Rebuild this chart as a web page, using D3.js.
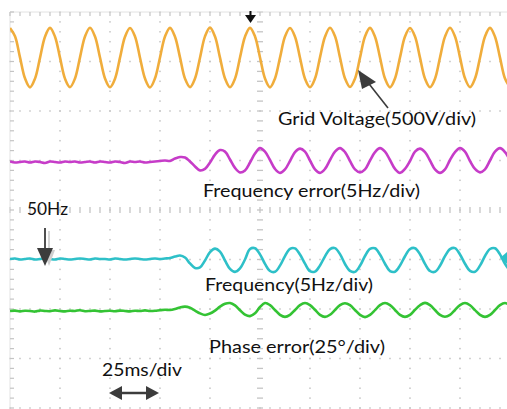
<!DOCTYPE html>
<html><head><meta charset="utf-8">
<script src="https://cdn.jsdelivr.net/npm/d3@7"></script>
<style>html,body{margin:0;padding:0;background:#fff;overflow:hidden}</style>
</head><body><svg id="c" width="507" height="409"></svg>
<script>
// ---- data (sampled every 2.5 ms, 0..250 ms) ----
const sampleStepMs = 2.5;
const timeDivs = [0,25,50,75,100,125,150,175,200,225,250];   // 25 ms/div
const ampDivs  = [-4,-3,-2,-1,0,1,2,3,4];

const gridVoltage = [
  298,214,2,-210,-301,-213,-3,211,
  300,211,-1,-213,-299,-211,2,213,
  301,212,1,-211,-300,-214,-1,210,
  299,213,-2,-212,-302,-210,1,212,
  300,210,2,-213,-299,-212,-2,214,
  302,212,-1,-211,-300,-213,0,211,
  300,213,1,-212,-301,-211,-1,212,
  299,211,-2,-214,-300,-212,2,210,
  301,214,0,-211,-298,-213,-1,213,
  300,210,1,-212,-301,-211,2,212,
  298,212,-1,-213,-300,-214,0,211,
  301,213,2,-210,-299,-212,-2,213,
  300,211,-1,-212,-300
];
const freqError = [
  -0.1,-0.2,-0.15,-0.1,-0.2,-0.1,-0.15,-0.25,-0.1,-0.15,-0.2,-0.1,-0.15,-0.1,-0.2,-0.15,
  -0.1,-0.2,-0.1,-0.15,-0.2,-0.1,-0.15,-0.25,-0.1,-0.15,-0.1,-0.2,-0.15,-0.1,-0.05,0.0,-0.05,
  0.2,0.35,0.3,-0.1,-0.6,-1.0,-0.85,-0.2,0.6,1.05,0.9,0.1,-0.75,-1.2,-1.0,-0.2,0.7,
  1.25,0.9,0.05,-0.85,-1.25,-0.9,-0.05,0.85,
  1.2,0.9,0.0,-0.9,-1.25,-0.85,0.05,0.9,
  1.25,0.85,-0.05,-0.9,-1.2,-0.9,0.0,0.85,
  1.25,0.9,0.05,-0.85,-1.25,-0.85,-0.05,0.9,
  1.2,0.85,0.0,-0.9,-1.25,-0.9,0.05,0.85,
  1.25,0.9,-0.05,-0.85,-1.2,-0.9,0.0,0.9,
  1.25,0.85,0.0
];
const frequency = [
  50.05,50.1,50.0,50.05,50.1,50.0,50.05,50.1,50.05,50.0,50.1,50.05,50.0,50.05,50.1,50.05,
  50.0,50.1,50.05,50.05,50.0,50.1,50.05,50.0,50.05,50.1,50.05,50.0,50.05,50.1,50.05,50.1,
  50.15,50.3,50.4,50.2,49.6,49.15,49.2,49.9,50.75,51.1,50.8,49.9,49.05,48.75,49.1,50.0,
  51.06,51.14,50.52,49.56,48.84,48.76,49.38,50.34,
  51.08,51.12,50.5,49.58,48.82,48.78,49.4,50.32,
  51.05,51.15,50.54,49.55,48.85,48.75,49.36,50.35,
  51.07,51.13,50.5,49.57,48.83,48.77,49.39,50.33,
  51.06,51.14,50.53,49.56,48.84,48.76,49.37,50.34,
  51.05,51.15,50.51,49.57,48.85,48.76,49.38,50.35,
  51.06,51.13,50.52,49.56,48.84
];
const phaseError = [
  -1.0,-0.8,-1.2,-0.9,-1.0,-1.3,-0.8,-1.0,-1.1,-0.7,-1.0,-1.2,-0.9,-1.0,-0.6,-1.1,
  -1.0,-0.8,-1.2,-1.0,-0.9,-1.1,-0.8,-1.0,-1.2,-0.9,-1.0,-0.7,-1.0,-0.9,-0.6,-0.4,-0.5,
  0.0,0.8,1.2,0.6,-0.8,-2.2,-3.0,-2.3,-0.8,1.2,2.6,3.0,1.8,-0.6,-2.8,-3.6,-2.2,1.0,
  3.0,1.97,-0.5,-2.97,-4.0,-2.97,-0.5,1.97,
  3.0,2.0,-0.4,-3.0,-4.0,-2.9,-0.5,2.0,
  2.9,1.95,-0.5,-2.95,-4.1,-3.0,-0.6,1.97,
  3.0,2.0,-0.5,-2.97,-4.0,-2.97,-0.4,1.9,
  3.1,1.97,-0.5,-3.0,-3.9,-2.97,-0.5,2.0,
  3.0,1.9,-0.6,-2.97,-4.0,-3.0,-0.5,1.97,
  3.0,1.97
];

const channelNames = ["Grid Voltage(500V/div)","Frequency error(5Hz/div)","Frequency(5Hz/div)","Phase error(25°/div)"];
const markerTexts = ["50Hz","25ms/div"];

// ---- drawing ----
const svg = d3.select("#c");
const x = d3.scaleLinear().domain([0,250]).range([10,510]);
const y = d3.scaleLinear().domain([-4,4]).range([408,12]);
const gridCol = "#c4c4c4";

const gGrid = svg.append("g");
const minorX = d3.range(0,250.001,5);
const minorY = d3.range(-4,4.001,0.2);
timeDivs.forEach(t=>{
  if (t===0 || t===125) return;
  gGrid.selectAll(null).data(minorY).join("rect")
    .attr("x",x(t)-0.75).attr("y",d=>y(d)-0.75).attr("width",1.5).attr("height",1.5).attr("fill",gridCol);
});
ampDivs.forEach(a=>{
  if (a===0 || a===4) return;
  gGrid.selectAll(null).data(minorX).join("rect")
    .attr("x",d=>x(d)-0.75).attr("y",y(a)-0.75).attr("width",1.5).attr("height",1.5).attr("fill",gridCol);
});
gGrid.selectAll(null).data(minorX).join("line")
  .attr("x1",d=>x(d)).attr("x2",d=>x(d)).attr("y1",y(0)-3).attr("y2",y(0)+3)
  .attr("stroke",gridCol).attr("stroke-width",1.3);
gGrid.selectAll(null).data(minorY).join("line")
  .attr("y1",d=>y(d)).attr("y2",d=>y(d)).attr("x1",x(125)-3).attr("x2",x(125)+3)
  .attr("stroke",gridCol).attr("stroke-width",1.3);
gGrid.append("line").attr("x1",x(0)).attr("x2",x(0)).attr("y1",y(4)).attr("y2",y(-4)).attr("stroke","#e2e2e2");
gGrid.append("line").attr("x1",x(0)).attr("x2",x(250)).attr("y1",y(4)).attr("y2",y(4)).attr("stroke","#e2e2e2");
gGrid.selectAll(null).data(minorY).join("line")
  .attr("y1",d=>y(d)).attr("y2",d=>y(d)).attr("x1",x(0)).attr("x2",x(0)+4)
  .attr("stroke",gridCol).attr("stroke-width",1.2);
gGrid.selectAll(null).data(minorX).join("line")
  .attr("x1",d=>x(d)).attr("x2",d=>x(d)).attr("y1",y(4)).attr("y2",y(4)+4)
  .attr("stroke",gridCol).attr("stroke-width",1.2);

// traces
const channels = [
  {vals:gridVoltage, perDiv:500, ref:0,  off:3.08, color:"#f0ad3c"},
  {vals:freqError,   perDiv:5,   ref:0,  off:1,    color:"#c63cc8"},
  {vals:frequency,   perDiv:5,   ref:50, off:-1,   color:"#2ec0c8"},
  {vals:phaseError,  perDiv:25,  ref:0,  off:-2,   color:"#34c334"}
];
svg.append("clipPath").attr("id","clip").append("rect")
  .attr("x",x(0)).attr("y",y(4)).attr("width",x(250)-x(0)).attr("height",y(-4)-y(4));
const gTr = svg.append("g").attr("clip-path","url(#clip)");
channels.forEach(ch=>{
  const line = d3.line()
    .x((d,i)=>x(i*sampleStepMs))
    .y(d=>y((d-ch.ref)/ch.perDiv + ch.off))
    .curve(d3.curveCatmullRom);
  gTr.append("path").datum(ch.vals).attr("d",line)
    .attr("fill","none").attr("stroke",ch.color).attr("stroke-width",2.6)
    .attr("stroke-linejoin","round");
});

// labels
const font = "Lato, 'Open Sans', sans-serif";
const labelPos = [[278,125,198],[203,197,217],[205,291,168],[209,353,176]];
channelNames.forEach((t,i)=>{
  svg.append("text").attr("x",labelPos[i][0]).attr("y",labelPos[i][1])
    .attr("font-family",font).attr("font-size",18).attr("fill","#111")
    .attr("textLength",labelPos[i][2]).attr("lengthAdjust","spacingAndGlyphs").text(t);
});
svg.append("text").attr("x",27).attr("y",215).attr("font-family",font).attr("font-size",18)
  .attr("fill","#111").attr("textLength",41).attr("lengthAdjust","spacingAndGlyphs").text(markerTexts[0]);
svg.append("text").attr("x",102).attr("y",376).attr("font-family",font).attr("font-size",18)
  .attr("fill","#111").attr("textLength",80).attr("lengthAdjust","spacingAndGlyphs").text(markerTexts[1]);

// arrows
const ac = "#3c3c3c";
svg.append("line").attr("x1",388).attr("y1",108).attr("x2",366).attr("y2",80).attr("stroke",ac).attr("stroke-width",1.6);
svg.append("path").attr("d","M358,70 L376,82 L362,89 Z").attr("fill",ac);
svg.append("line").attr("x1",49).attr("y1",231).attr("x2",49).attr("y2",262).attr("stroke","#c8c8c8").attr("stroke-width",1.5);
svg.append("path").attr("d","M43,250 L55,250 L49,266 Z").attr("fill","#cfcfcf");
svg.append("line").attr("x1",45).attr("y1",228).attr("x2",45).attr("y2",252).attr("stroke",ac).attr("stroke-width",1.8);
svg.append("path").attr("d","M37,248 L53,248 L45,266 Z").attr("fill",ac);
svg.append("line").attr("x1",250.5).attr("y1",11).attr("x2",250.5).attr("y2",18).attr("stroke","#111").attr("stroke-width",2);
svg.append("path").attr("d","M245,15 L256,15 L250.5,23 Z").attr("fill","#111");
svg.append("line").attr("x1",118).attr("y1",393).attr("x2",150).attr("y2",393).attr("stroke",ac).attr("stroke-width",2.5);
svg.append("path").attr("d","M109,393 L122,386 L122,400 Z").attr("fill",ac);
svg.append("path").attr("d","M159,393 L146,386 L146,400 Z").attr("fill",ac);
svg.append("path").attr("d","M500,258 L507,252 L507,264 Z").attr("fill","#2ec0c8");
</script></body></html>
